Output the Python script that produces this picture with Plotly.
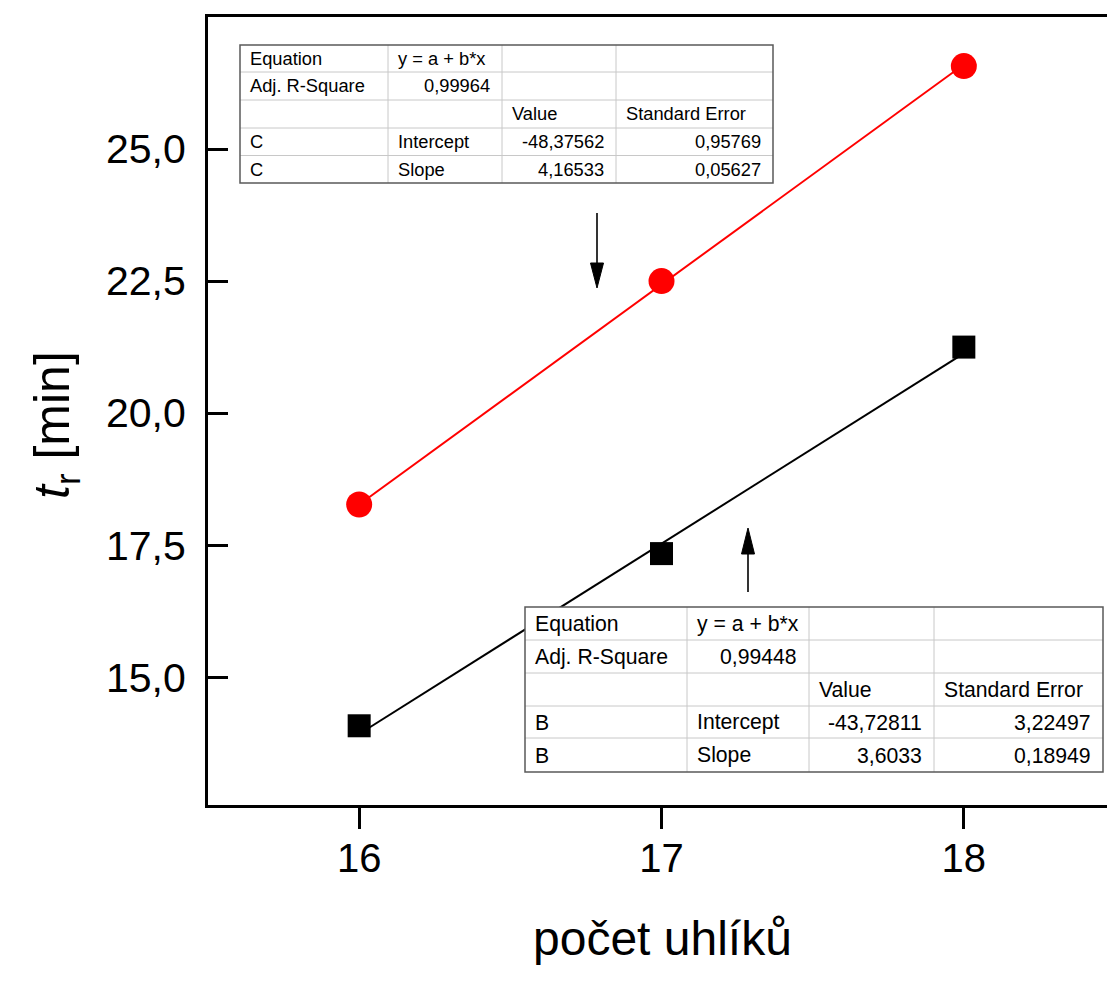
import plotly.graph_objects as go

# ---------------- data ----------------
carbons = [16, 17, 18]
tr_C = [18.27, 22.50, 26.57]      # red circles (series C)
tr_B = [14.08, 17.34, 21.25]      # black squares (series B)

fit_C = {"name": "C", "intercept": -48.37562, "slope": 4.16533,
         "se_intercept": 0.95769, "se_slope": 0.05627, "adj_r2": 0.99964}
fit_B = {"name": "B", "intercept": -43.72811, "slope": 3.6033,
         "se_intercept": 3.22497, "se_slope": 0.18949, "adj_r2": 0.99448}

x_ticks = [16, 17, 18]
y_ticks = [15.0, 17.5, 20.0, 22.5, 25.0]
x_title = "počet uhlíků"
y_title = "<i>t</i><sub>r</sub> [min]"

# ---------------- layout helpers ----------------
W, H = 1107, 981
L, R, T, B = 208, 0, 17, 176
PW, PH = W - L - R, H - T - B
FONT = "Liberation Sans, Arial, sans-serif"


def px(x):
    return (x - L) / PW


def py(y):
    return (H - B - y) / PH


def fmt(v):
    return str(v).replace(".", ",")


fig = go.Figure()

for fit, color in ((fit_C, "#ff0000"), (fit_B, "#000000")):
    xs = [carbons[0], carbons[-1]]
    ys = [fit["intercept"] + fit["slope"] * x for x in xs]
    fig.add_trace(go.Scatter(x=xs, y=ys, mode="lines",
                             line=dict(color=color, width=2), hoverinfo="skip"))

fig.add_trace(go.Scatter(x=carbons, y=tr_C, mode="markers",
                         marker=dict(symbol="circle", size=26, color="#ff0000",
                                     line=dict(width=0))))
fig.add_trace(go.Scatter(x=carbons, y=tr_B, mode="markers",
                         marker=dict(symbol="square", size=23, color="#000000",
                                     line=dict(width=0))))

shapes = []
annotations = []


def is_num(s):
    return len(s) > 0 and (s[0].isdigit() or (s[0] == "-" and len(s) > 1 and s[1].isdigit()))


def add_table(fit, cols, rows, fsize):
    n = fit["name"]
    cells = [
        ["Equation", "y = a + b*x", "", ""],
        ["Adj. R-Square", fmt(fit["adj_r2"]), "", ""],
        ["", "", "Value", "Standard Error"],
        [n, "Intercept", fmt(fit["intercept"]), fmt(fit["se_intercept"])],
        [n, "Slope", fmt(fit["slope"]), fmt(fit["se_slope"])],
    ]
    # white background
    shapes.append(dict(type="rect", xref="paper", yref="paper",
                       x0=px(cols[0]), x1=px(cols[-1]), y0=py(rows[0]), y1=py(rows[-1]),
                       line=dict(width=0), fillcolor="white", layer="above"))
    # inner grid lines
    for xc in cols[1:-1]:
        shapes.append(dict(type="line", xref="paper", yref="paper", layer="above",
                           x0=px(xc), x1=px(xc), y0=py(rows[0]), y1=py(rows[-1]),
                           line=dict(color="#c8c8c8", width=1)))
    for yr in rows[1:-1]:
        shapes.append(dict(type="line", xref="paper", yref="paper", layer="above",
                           x0=px(cols[0]), x1=px(cols[-1]), y0=py(yr), y1=py(yr),
                           line=dict(color="#c8c8c8", width=1)))
    # outer border
    shapes.append(dict(type="rect", xref="paper", yref="paper",
                       x0=px(cols[0]), x1=px(cols[-1]), y0=py(rows[0]), y1=py(rows[-1]),
                       line=dict(color="#5a5a5a", width=1.5), layer="above"))
    for i, row in enumerate(cells):
        yc = (rows[i] + rows[i + 1]) / 2
        for j, txt in enumerate(row):
            if not txt:
                continue
            if is_num(txt):
                xa, anchor = cols[j + 1] - 10, "right"
            else:
                xa, anchor = cols[j] + 8, "left"
            annotations.append(dict(x=px(xa), y=py(yc), xref="paper", yref="paper",
                                    text=txt, showarrow=False, xanchor=anchor,
                                    yanchor="middle",
                                    font=dict(family=FONT, size=fsize, color="#000")))


add_table(fit_C, [240, 388, 502, 616, 773], [45, 72, 100, 128, 155.5, 183], 18.3)
add_table(fit_B, [525, 687, 809, 934, 1103], [607, 640, 673, 706, 738, 772], 21.2)


# arrows
def arrow(xc, y_tail, y_base, y_tip):
    shapes.append(dict(type="line", xref="paper", yref="paper",
                       x0=px(xc), x1=px(xc), y0=py(y_tail), y1=py(y_base),
                       line=dict(color="#000", width=1.6)))
    path = "M {} {} L {} {} L {} {} Z".format(px(xc - 6.5), py(y_base), px(xc + 6.5),
                                              py(y_base), px(xc), py(y_tip))
    shapes.append(dict(type="path", xref="paper", yref="paper", path=path,
                       fillcolor="#000", line=dict(color="#000", width=1)))


arrow(597, 213, 263, 288)
arrow(748, 592, 554, 528)

# axis titles
annotations.append(dict(x=px(662), y=py(938), xref="paper", yref="paper", text=x_title,
                        showarrow=False, xanchor="center", yanchor="middle",
                        font=dict(family=FONT, size=48, color="#000")))
annotations.append(dict(x=px(55), y=py(425), xref="paper", yref="paper", text=y_title,
                        showarrow=False, xanchor="center", yanchor="middle", textangle=-90,
                        font=dict(family=FONT, size=50, color="#000")))

fig.update_layout(
    width=W, height=H,
    margin=dict(l=L, r=R, t=T, b=B, pad=0),
    paper_bgcolor="white", plot_bgcolor="white",
    showlegend=False,
    separators=", ",
    shapes=shapes,
    annotations=annotations,
    xaxis=dict(range=[15.5, 18.4735], tickvals=x_ticks, ticks="outside", ticklen=21,
               tickwidth=3, tickcolor="#000", showline=True, linewidth=3, linecolor="#000",
               mirror=True, showgrid=False, zeroline=False,
               tickfont=dict(family=FONT, size=40, color="#000"), ticklabelstandoff=-5),
    yaxis=dict(range=[12.58, 27.5], tickvals=y_ticks, tickformat=".1f", ticks="inside",
               ticklen=20, tickwidth=3, tickcolor="#000", showline=True, linewidth=3,
               linecolor="#000", mirror=False, showgrid=False, zeroline=False,
               tickfont=dict(family=FONT, size=41, color="#000"), ticklabelstandoff=11),
)

fig.write_html("out.html")
